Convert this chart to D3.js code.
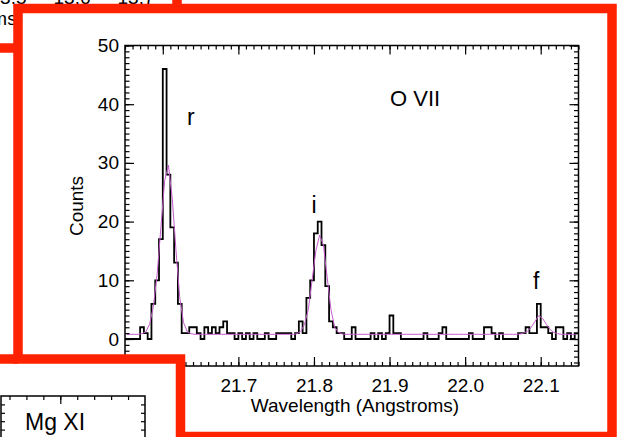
<!DOCTYPE html>
<html>
<head>
<meta charset="utf-8">
<script src="https://cdn.jsdelivr.net/npm/d3@7"></script>
<style>
  html, body { margin: 0; padding: 0; background: #fff; }
  svg { display: block; }
  text { font-family: "Liberation Sans", Arial, sans-serif; fill: #000; }
</style>
</head>
<body>
<div id="chart"></div>
<script>
// O VII triplet, counts per 0.005 A bin starting at 21.55 A
var binStart = 21.55;
var binWidth = 0.005;
var counts = [
  0, 0, 0, 0, 2, 1, 0, 6, 10, 17,
  46, 28, 19, 13, 6, 1, 1, 2, 2, 1,
  0, 2, 1, 2, 1, 2, 3, 1, 1, 0,
  1, 0, 1, 0, 1, 0, 0, 1, 0, 0,
  1, 1, 1, 1, 0, 1, 3, 1, 7, 10,
  18, 20, 16, 9, 3, 2, 1, 1, 0, 0,
  2, 0, 0, 0, 0, 1, 0, 1, 0, 1,
  4, 1, 1, 0, 0, 0, 0, 0, 0, 1,
  0, 0, 0, 1, 2, 0, 0, 0, 0, 0,
  0, 1, 0, 0, 0, 2, 2, 1, 0, 1,
  0, 0, 0, 0, 1, 1, 2, 1, 1, 6,
  2, 2, 1, 0, 2, 2, 0, 1, 0, 1
];
// fitted model at bin centres
var model = [
  0.8, 0.8, 0.8, 0.8, 0.9, 1.2, 2.5, 5.5, 11, 19,
  27, 29.6, 24, 15, 7, 2.8, 1.2, 0.9, 0.8, 0.8,
  0.8, 0.8, 0.8, 0.8, 0.8, 0.8, 0.8, 0.8, 0.8, 0.8,
  0.8, 0.8, 0.8, 0.8, 0.8, 0.8, 0.8, 0.8, 0.8, 0.8,
  0.8, 0.8, 0.8, 0.8, 0.8, 0.9, 1.3, 2.5, 5, 10,
  15, 17.7, 16, 10.5, 5, 2, 1.1, 0.85, 0.8, 0.8,
  0.8, 0.8, 0.8, 0.8, 0.8, 0.8, 0.8, 0.8, 0.8, 0.8,
  0.8, 0.8, 0.8, 0.8, 0.8, 0.8, 0.8, 0.8, 0.8, 0.8,
  0.8, 0.8, 0.8, 0.8, 0.8, 0.8, 0.8, 0.8, 0.8, 0.8,
  0.8, 0.8, 0.8, 0.8, 0.8, 0.8, 0.8, 0.8, 0.8, 0.8,
  0.8, 0.8, 0.8, 0.8, 0.85, 1.0, 1.3, 2, 3, 4,
  3.5, 2.5, 1.6, 1.1, 0.9, 0.8, 0.8, 0.8, 0.8, 0.8
];
var xTicks = [21.6, 21.7, 21.8, 21.9, 22.0, 22.1];
var yTicks = [0, 10, 20, 30, 40, 50];
var lineLabels = [{t: "r", w: 21.637, c: 36.5}, {t: "i", w: 21.8, c: 21.5}, {t: "f", w: 22.094, c: 8.5}];
// tick labels of the panel above, cut by the page edge
var topPanelTicks = ["13.5", "13.6", "13.7"];

var W = 617, H = 437;
var svg = d3.select("#chart").append("svg")
    .attr("width", W).attr("height", H);
svg.append("rect").attr("width", W).attr("height", H).attr("fill", "#fff");

var x = d3.scaleLinear().domain([21.55, 22.15]).range([125, 578.5]);
var y = d3.scaleLinear().domain([-4.6, 50]).range([366, 45.5]);

var plot = svg.append("g");

// histogram
var steps = counts.map(function(c, i) { return [binStart + i * binWidth, c]; });
steps.push([binStart + counts.length * binWidth, counts[counts.length - 1]]);

plot.append("path")
    .datum(steps)
    .attr("fill", "none")
    .attr("stroke", "#000")
    .attr("stroke-width", 1.8)
    .attr("d", d3.line()
        .x(function(d) { return x(d[0]); })
        .y(function(d) { return y(d[1]); })
        .curve(d3.curveStepAfter));

plot.append("path")
    .datum(model)
    .attr("fill", "none")
    .attr("stroke", "#c45ccc")
    .attr("stroke-width", 1)
    .attr("d", d3.line()
        .x(function(d, i) { return x(binStart + (i + 0.5) * binWidth); })
        .y(function(d) { return y(d); }));

// frame
plot.append("rect")
    .attr("x", x.range()[0]).attr("y", y.range()[1])
    .attr("width", x.range()[1] - x.range()[0])
    .attr("height", y.range()[0] - y.range()[1])
    .attr("fill", "none").attr("stroke", "#000").attr("stroke-width", 1.5);

var xMinor = d3.range(21.55, 22.1501, 0.01);
var yMinor = d3.range(-4, 50.5, 1);

function ticks(g, axis) {
    g.call(axis);
    g.select(".domain").remove();
    g.selectAll("line").attr("stroke", "#000").attr("stroke-width", 1.2);
}

// bottom
plot.append("g").attr("transform", "translate(0," + y.range()[0] + ")")
    .call(ticks, d3.axisBottom(x).tickValues(xMinor).tickSize(-4).tickFormat(""));
var xb = plot.append("g").attr("transform", "translate(0," + y.range()[0] + ")")
    .call(ticks, d3.axisBottom(x).tickValues(xTicks).tickSize(-9).tickPadding(13).tickFormat(d3.format(".1f")));
xb.selectAll("text").attr("font-size", 19);
// top
plot.append("g").attr("transform", "translate(0," + y.range()[1] + ")")
    .call(ticks, d3.axisTop(x).tickValues(xMinor).tickSize(-4).tickFormat(""));
plot.append("g").attr("transform", "translate(0," + y.range()[1] + ")")
    .call(ticks, d3.axisTop(x).tickValues(xTicks).tickSize(-9).tickFormat(""));
// left
plot.append("g").attr("transform", "translate(" + x.range()[0] + ",0)")
    .call(ticks, d3.axisLeft(y).tickValues(yMinor).tickSize(-4.5).tickFormat(""));
var yl = plot.append("g").attr("transform", "translate(" + x.range()[0] + ",0)")
    .call(ticks, d3.axisLeft(y).tickValues(yTicks).tickSize(-9).tickPadding(6));
yl.selectAll("text").attr("font-size", 19);
// right
plot.append("g").attr("transform", "translate(" + x.range()[1] + ",0)")
    .call(ticks, d3.axisRight(y).tickValues(yMinor).tickSize(-4.5).tickFormat(""));
plot.append("g").attr("transform", "translate(" + x.range()[1] + ",0)")
    .call(ticks, d3.axisRight(y).tickValues(yTicks).tickSize(-9).tickFormat(""));

plot.append("text")
    .attr("x", 355).attr("y", 412)
    .attr("text-anchor", "middle").attr("font-size", 19)
    .text("Wavelength (Angstroms)");
plot.append("text")
    .attr("transform", "translate(83,206) rotate(-90)")
    .attr("text-anchor", "middle").attr("font-size", 19)
    .text("Counts");
plot.append("text")
    .attr("x", 390).attr("y", 106).attr("font-size", 22)
    .text("O VII");
plot.selectAll(".lbl").data(lineLabels).enter().append("text")
    .attr("class", "lbl")
    .attr("x", function(d) { return x(d.w); })
    .attr("y", function(d) { return y(d.c); })
    .attr("text-anchor", "middle").attr("font-size", 23)
    .text(function(d) { return d.t; });

// neighbouring panels outside the highlight box
svg.append("rect").attr("x", 0).attr("y", 359).attr("width", 180).attr("height", 80).attr("fill", "#fff");
svg.append("rect").attr("x", 0).attr("y", 0).attr("width", 17).attr("height", 359).attr("fill", "#fff");
svg.append("rect").attr("x", 0).attr("y", 0).attr("width", W).attr("height", 8).attr("fill", "#fff");

svg.append("text").attr("x", 23).attr("y", 25)
    .attr("text-anchor", "end").attr("font-size", 19)
    .text("Wavelength (Angstroms)");
var topX = d3.scalePoint().domain(topPanelTicks).range([8, 136]);
svg.selectAll(".toplbl").data(topPanelTicks).enter().append("text")
    .attr("class", "toplbl")
    .attr("x", function(d) { return topX(d); })
    .attr("y", 4)
    .attr("text-anchor", "middle").attr("font-size", 19)
    .text(function(d) { return d; });

var mgX = d3.scaleLinear().domain([0, 8.5]).range([1, 145]);
var mg = svg.append("g");
mg.append("rect").attr("x", 1).attr("y", 396).attr("width", 144).attr("height", 60)
    .attr("fill", "none").attr("stroke", "#000").attr("stroke-width", 1.5);
mg.append("g").attr("transform", "translate(0,396)")
    .call(ticks, d3.axisTop(mgX).tickValues(d3.range(0.5, 8.5, 1)).tickSize(-4).tickFormat(""));
mg.append("g").attr("transform", "translate(0,396)")
    .call(ticks, d3.axisTop(mgX).tickValues([3.5]).tickSize(-8).tickFormat(""));
var mgY = d3.scaleLinear().domain([0, 5]).range([438, 396]);
mg.append("g").attr("transform", "translate(145,0)")
    .call(ticks, d3.axisRight(mgY).tickValues([1, 2, 3, 4]).tickSize(-4).tickFormat(""));
mg.append("g").attr("transform", "translate(1,0)")
    .call(ticks, d3.axisLeft(mgY).tickValues([1, 2, 3, 4]).tickSize(-4).tickFormat(""));
mg.append("text").attr("x", 25).attr("y", 430).attr("font-size", 23).text("Mg XI");

// red highlight outline
var red = "#ff2200";
svg.append("path")
    .attr("d", "M18,8.5H612V436.5H180.5V359H18Z")
    .attr("fill", "none").attr("stroke", red).attr("stroke-width", 9.5);
svg.append("path")
    .attr("d", "M0,359H18M0,48H18M177,0V8.5")
    .attr("fill", "none").attr("stroke", red).attr("stroke-width", 9.5);
</script>
</body>
</html>
